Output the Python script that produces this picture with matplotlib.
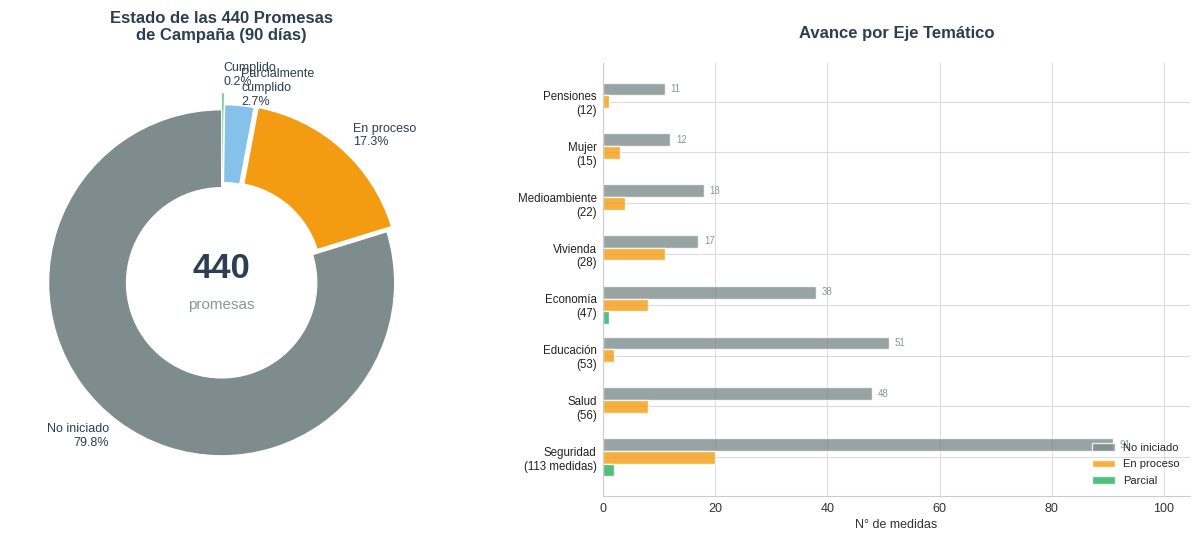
import numpy as np
import matplotlib
matplotlib.use('Agg')
import matplotlib.pyplot as plt
import seaborn as sns

sns.set_style('whitegrid')
plt.rcParams['font.family'] = ['Liberation Sans', 'DejaVu Sans']

# Donut: estado global
estados = ['Cumplido', 'Parcialmente\ncumplido', 'En proceso', 'No iniciado']
conteo = [1, 12, 76, 351]
colores_estado = ['#27ae60', '#85c1e9', '#f39c12', '#7f8c8d']

# Barras por eje temático (de abajo hacia arriba)
ejes = ['Seguridad\n(113 medidas)', 'Salud\n(56)', 'Educación\n(53)', 'Economía\n(47)',
        'Vivienda\n(28)', 'Medioambiente\n(22)', 'Mujer\n(15)', 'Pensiones\n(12)']
no_iniciado = [91, 48, 51, 38, 17, 18, 12, 11]
en_proceso = [20, 8, 2, 8, 11, 4, 3, 1]
parcial = [2, 0, 0, 1, 0, 0, 0, 0]

dark = '#2c3e50'

fig = plt.figure(figsize=(12, 5.41), dpi=100)

# --- Donut ---
ax1 = fig.add_axes([0.0045, 0.0776, 0.3604, 0.7994])
total = sum(conteo)
etiquetas = [f'{e}\n{c / total * 100:.1f}%' for e, c in zip(estados, conteo)]
wedges, texts = ax1.pie(conteo, labels=etiquetas, colors=colores_estado, startangle=90,
                        counterclock=False, labeldistance=1.1, explode=[0.1, 0.03, 0.04, 0],
                        wedgeprops=dict(width=0.45, edgecolor='white', linewidth=0.9),
                        textprops=dict(fontsize=9, color=dark))
ax1.text(0, 0.08, str(total), ha='center', va='center', fontsize=25, fontweight='bold', color=dark)
ax1.text(0, -0.13, 'promesas', ha='center', va='center', fontsize=11, color='#8c9799')
ax1.set_title('Estado de las 440 Promesas\nde Campaña (90 días)', fontsize=12, fontweight='bold',
              color=dark, pad=19)

# --- Barras horizontales ---
ax2 = fig.add_axes([0.5025, 0.0832, 0.4892, 0.8004])
y = np.arange(len(ejes))
h = 0.25
ax2.barh(y + h, no_iniciado, height=h, color='#7f8c8d', alpha=0.8, label='No iniciado')
ax2.barh(y, en_proceso, height=h, color='#f39c12', alpha=0.8, label='En proceso')
ax2.barh(y - h, parcial, height=h, color='#27ae60', alpha=0.8, label='Parcial')
for yi, v in zip(y, no_iniciado):
    ax2.text(v + 1, yi + h, str(v), va='center', ha='left', fontsize=7, color='#8c9799')

ax2.set_yticks(y)
ax2.set_yticklabels(ejes, fontsize=8.3, color='#222222')
ax2.tick_params(axis='y', pad=1)
ax2.set_xlim(0, max(no_iniciado) * 1.15)
ax2.tick_params(axis='x', labelsize=9, colors='#333333', pad=1.5)
ax2.set_xlabel('N° de medidas', fontsize=9, color='#333333', labelpad=3)
ax2.set_title('Avance por Eje Temático', fontsize=12, fontweight='bold', color=dark, pad=18)
ax2.grid(True, color='#dddddd', linewidth=0.8)
ax2.set_axisbelow(True)
for s in ['top', 'right']:
    ax2.spines[s].set_visible(False)
for s in ['left', 'bottom']:
    ax2.spines[s].set_color('#cccccc')
ax2.legend(loc='lower right', frameon=False, fontsize=8, labelspacing=0.6)

fig.savefig('out.png', dpi=100)
